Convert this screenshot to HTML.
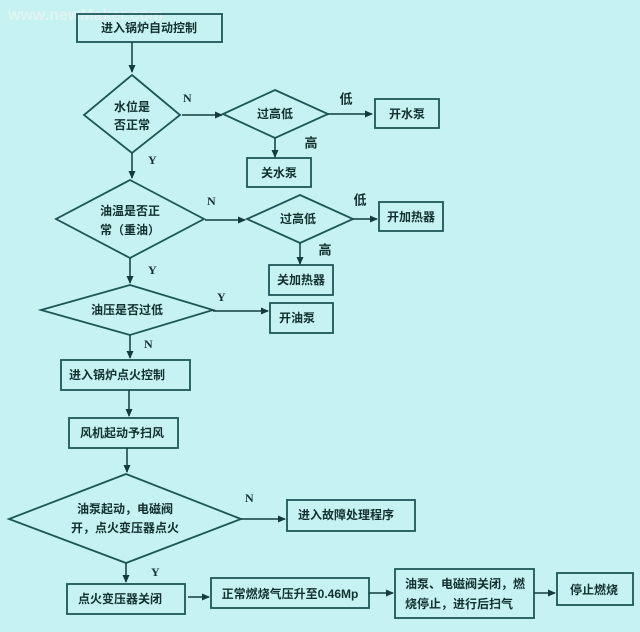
<!DOCTYPE html>
<html><head><meta charset="utf-8"><style>
html,body{margin:0;padding:0;background:#c6f3f1;}
svg{display:block;}
text{font-family:"Liberation Sans","Noto Sans CJK SC",sans-serif;fill:#123030;}
.t{font-size:12px;text-anchor:middle;dominant-baseline:central;font-weight:bold;}
.l{font-size:12px;font-family:"Liberation Serif","Noto Serif CJK SC",serif;font-weight:bold;}
</style></head><body>
<svg width="640" height="632" viewBox="0 0 640 632" xmlns="http://www.w3.org/2000/svg">
<defs><marker id="a" markerWidth="8" markerHeight="8" refX="7" refY="4" orient="auto" markerUnits="userSpaceOnUse"><path d="M0,0.5 L8,4 L0,7.5z" fill="#143c3c"/></marker></defs>
<rect width="640" height="632" fill="#c6f3f1"/>
<text x="8" y="20" style="font-size:16px;font-weight:bold;fill:#e8f4f4;opacity:.8">www.newMaker.com</text>
<g fill="none" stroke="#1e5656" stroke-width="1.8">
<rect x="77" y="14" width="145" height="28"/>
<polygon points="132,75 180,115 132,153 84,115"/>
<polygon points="275,90 328,114 275,138 223,114"/>
<rect x="375" y="99" width="64" height="29"/>
<rect x="247" y="158" width="64" height="29"/>
<polygon points="130,180 204,219 130,258 56,219"/>
<polygon points="300,195 353,219 300,243 247,219"/>
<rect x="379" y="202" width="64" height="29"/>
<rect x="269" y="265" width="64" height="30"/>
<polygon points="130,285 213,310 130,335 41,310"/>
<rect x="270" y="303" width="63" height="30"/>
<rect x="61" y="360" width="129" height="30"/>
<rect x="69" y="418" width="109" height="30"/>
<polygon points="126,474 241,519 126,563 9,519"/>
<rect x="287" y="500" width="128" height="31"/>
<rect x="67" y="584" width="118" height="30"/>
<rect x="211" y="578" width="158" height="30"/>
<rect x="395" y="569" width="139" height="49"/>
<rect x="557" y="573" width="76" height="32"/>
</g>
<g stroke="#143c3c" stroke-width="1.5" marker-end="url(#a)">
<line x1="132" y1="42" x2="132" y2="72"/>
<line x1="182" y1="115" x2="222" y2="115"/>
<line x1="328" y1="114" x2="372" y2="114"/>
<line x1="275" y1="138" x2="275" y2="157"/>
<line x1="132" y1="153" x2="132" y2="178"/>
<line x1="205" y1="220" x2="245" y2="220"/>
<line x1="353" y1="219" x2="377" y2="219"/>
<line x1="300" y1="243" x2="300" y2="264"/>
<line x1="130" y1="258" x2="130" y2="283"/>
<line x1="213" y1="311" x2="268" y2="311"/>
<line x1="130" y1="335" x2="130" y2="358"/>
<line x1="129" y1="390" x2="129" y2="416"/>
<line x1="127" y1="448" x2="127" y2="472"/>
<line x1="241" y1="519" x2="285" y2="519"/>
<line x1="126" y1="563" x2="126" y2="582"/>
<line x1="188" y1="597" x2="209" y2="597"/>
<line x1="369" y1="593" x2="393" y2="593"/>
<line x1="534" y1="593" x2="555" y2="593"/>
</g>
<text class="t" x="149" y="28">进入锅炉自动控制</text>
<text class="t" x="132" y="107">水位是</text>
<text class="t" x="132" y="125">否正常</text>
<text class="t" x="275" y="114">过高低</text>
<text class="t" x="407" y="114">开水泵</text>
<text class="t" x="279" y="173">关水泵</text>
<text class="t" x="130" y="211">油温是否正</text>
<text class="t" x="130" y="230">常（重油）</text>
<text class="t" x="298" y="219">过高低</text>
<text class="t" x="411" y="217">开加热器</text>
<text class="t" x="301" y="280">关加热器</text>
<text class="t" x="127" y="310">油压是否过低</text>
<text class="t" x="297" y="318">开油泵</text>
<text class="t" x="117" y="375">进入锅炉点火控制</text>
<text class="t" x="122" y="433">风机起动予扫风</text>
<text class="t" x="125" y="509">油泵起动，电磁阀</text>
<text class="t" x="125" y="528">开，点火变压器点火</text>
<text class="t" x="346" y="515">进入故障处理程序</text>
<text class="t" x="120" y="599">点火变压器关闭</text>
<text class="t" x="290" y="594">正常燃烧气压升至0.46Mp</text>
<text class="t" x="465" y="584">油泵、电磁阀关闭，燃</text>
<text class="t" x="459" y="604">烧停止，进行后扫气</text>
<text class="t" x="594" y="590">停止燃烧</text>
<text class="l" x="183" y="102">N</text>
<text class="l" x="148" y="164">Y</text>
<text class="l" x="207" y="205">N</text>
<text class="l" x="148" y="274">Y</text>
<text class="l" x="217" y="301">Y</text>
<text class="l" x="144" y="348">N</text>
<text class="l" x="245" y="502">N</text>
<text class="l" x="151" y="576">Y</text>
<text class="t" x="346" y="99" style="font-size:13px">低</text>
<text class="t" x="311" y="143" style="font-size:13px">高</text>
<text class="t" x="360" y="200" style="font-size:13px">低</text>
<text class="t" x="325" y="250" style="font-size:13px">高</text>
</svg>
</body></html>
